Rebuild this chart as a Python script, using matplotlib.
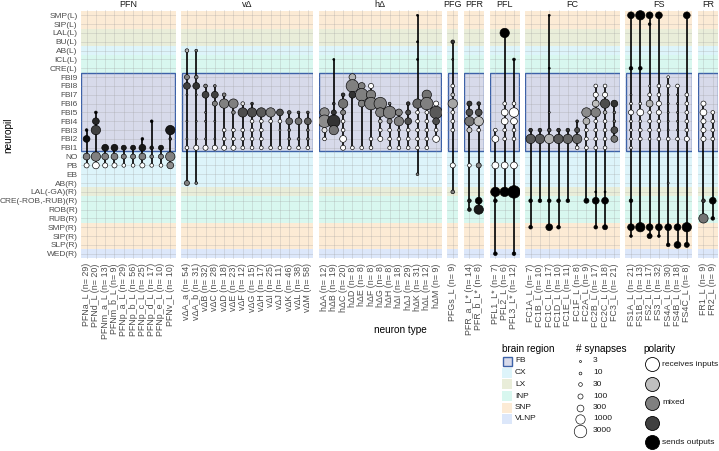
import matplotlib
matplotlib.use('Agg')
import matplotlib.pyplot as plt
from matplotlib.patches import Rectangle

plt.rcParams['font.family'] = ['Liberation Sans', 'DejaVu Sans']

W, H = 719, 451

# ---------------- data ----------------
NP_LABELS = ["SMP(L)", "SIP(L)", "LAL(L)", "BU(L)", "AB(L)", "ICL(L)", "CRE(L)",
             "FBl9", "FBl8", "FBl7", "FBl6", "FBl5", "FBl4", "FBl3", "FBl2", "FBl1",
             "NO", "PB", "EB", "AB(R)", "LAL(-GA)(R)", "CRE(-ROB,-RUB)(R)", "ROB(R)",
             "RUB(R)", "SMP(R)", "SIP(R)", "SLP(R)", "WED(R)"]
NP_KEYS = ["SMP_L", "SIP_L", "LAL_L", "BU_L", "AB_L", "ICL_L", "CRE_L",
           "FB9", "FB8", "FB7", "FB6", "FB5", "FB4", "FB3", "FB2", "FB1",
           "NO", "PB", "EB", "AB_R", "LAL_R", "CRE_R", "ROB_R", "RUB_R",
           "SMP_R", "SIP_R", "SLP_R", "WED_R"]
NP_REGION = ["SNP", "SNP", "LX", "LX", "CX", "INP", "INP",
             "FB", "FB", "FB", "FB", "FB", "FB", "FB", "FB", "FB",
             "CX", "CX", "CX", "CX", "LX", "INP", "INP", "INP",
             "SNP", "SNP", "SNP", "VLNP"]
REGIONS = ["FB", "CX", "LX", "INP", "SNP", "VLNP"]
REGION_COLORS = {"FB": "#D7DAEA", "CX": "#DDF4FA", "LX": "#E9EDD9",
                 "INP": "#D8F7EF", "SNP": "#FCEBD5", "VLNP": "#DCE7FA"}

SIZE_BREAKS = [3, 10, 30, 100, 300, 1000, 3000]
POLARITY_BREAKS = [0.0, 0.25, 0.5, 0.75, 1.0]
POLARITY_LABELS = ["receives inputs", "", "mixed", "", "sends outputs"]

PANEL_NAMES = ["PFN", "v\u0394", "h\u0394", "PFG", "PFR", "PFL", "FC", "FS", "FR"]

PFN_TYPES = ["PFNa_L (n= 29)", "PFNd_L (n= 20)", "PFNm_a_L (n= 13)", "PFNm_b_L (n= 9)",
             "PFNp_a_L (n= 29)", "PFNp_b_L (n= 56)", "PFNp_c_L (n= 25)", "PFNp_d_L (n= 17)",
             "PFNp_e_L (n= 10)", "PFNv_L (n= 10)"]
PFN_POINTS = [
    (0, "FB3", 10, 1), (0, "FB2", 300, 0.95), (0, "NO", 300, 0.5), (0, "PB", 100, 0),
    (1, "FB5", 10, 1), (1, "FB4", 300, 0.85), (1, "FB3", 1000, 0.75), (1, "NO", 1000, 0.5), (1, "PB", 300, 0),
    (2, "FB1", 300, 0.9), (2, "NO", 300, 0.5), (2, "PB", 100, 0),
    (3, "FB1", 300, 0.9), (3, "NO", 300, 0.5), (3, "PB", 100, 0),
    (4, "FB1", 100, 0.9), (4, "NO", 100, 0.5), (4, "PB", 30, 0),
    (5, "FB1", 100, 0.9), (5, "NO", 100, 0.5), (5, "PB", 30, 0),
    (6, "FB2", 10, 1), (6, "FB1", 300, 0.9), (6, "NO", 300, 0.5), (6, "PB", 100, 0),
    (7, "FB4", 10, 1), (7, "FB1", 30, 0.9), (7, "NO", 30, 0.5), (7, "PB", 30, 0),
    (8, "FB1", 100, 0.9), (8, "NO", 100, 0.5), (8, "PB", 30, 0),
    (9, "FB3", 1000, 0.9), (9, "FB2", 10, 0.8), (9, "NO", 1000, 0.5), (9, "PB", 300, 0.45),
]

VD_TYPES = ["v\u0394A_a (n= 54)", "v\u0394A_b (n= 31)", "v\u0394B (n= 32)", "v\u0394C (n= 28)",
            "v\u0394D (n= 18)", "v\u0394E (n= 23)", "v\u0394F (n= 12)", "v\u0394G (n= 15)",
            "v\u0394H (n= 17)", "v\u0394I (n= 25)", "v\u0394J (n= 11)", "v\u0394K (n= 46)",
            "v\u0394L (n= 38)", "v\u0394M (n= 58)"]
VD_POINTS = [
    (0, "AB_L", 30, 0.3), (0, "FB9", 100, 0.5), (0, "FB8", 300, 0.75), (0, "FB7", 3, 0.5),
    (0, "FB4", 3, 0.5), (0, "FB2", 3, 0.3), (0, "FB1", 30, 0), (0, "AB_R", 100, 0.5),
    (1, "AB_L", 10, 0.5), (1, "FB9", 30, 0.5), (1, "FB8", 300, 0.8), (1, "FB7", 3, 0.5),
    (1, "FB4", 3, 0.5), (1, "FB2", 3, 0.5), (1, "FB1", 100, 0), (1, "AB_R", 10, 0.5),
    (2, "FB8", 30, 0.5), (2, "FB7", 300, 0.75), (2, "FB5", 3, 0.5), (2, "FB4", 3, 0.5),
    (2, "FB2", 3, 0.5), (2, "FB1", 100, 0),
    (3, "FB8", 10, 0.5), (3, "FB7", 300, 0.75), (3, "FB6", 100, 0.5), (3, "FB4", 3, 0.5),
    (3, "FB2", 3, 0.5), (3, "FB1", 100, 0),
    (4, "FB7", 30, 0.5), (4, "FB6", 1000, 0.5), (4, "FB3", 30, 0), (4, "FB2", 30, 0), (4, "FB1", 100, 0),
    (5, "FB6", 1000, 0.5), (5, "FB5", 30, 0.5), (5, "FB3", 30, 0), (5, "FB2", 30, 0), (5, "FB1", 100, 0),
    (6, "FB6", 30, 0.1), (6, "FB5", 1000, 0.7), (6, "FB3", 30, 0), (6, "FB2", 30, 0), (6, "FB1", 30, 0),
    (7, "FB6", 10, 0.8), (7, "FB5", 1000, 0.7), (7, "FB4", 30, 0), (7, "FB3", 30, 0),
    (7, "FB2", 30, 0), (7, "FB1", 30, 0),
    (8, "FB5", 1000, 0.65), (8, "FB4", 30, 0), (8, "FB3", 30, 0), (8, "FB2", 30, 0), (8, "FB1", 30, 0),
    (9, "FB5", 1000, 0.5), (9, "FB4", 30, 0), (9, "FB1", 30, 0),
    (10, "FB5", 300, 0.7), (10, "FB4", 30, 0), (10, "FB3", 3, 0), (10, "FB1", 30, 0),
    (11, "FB5", 30, 0.7), (11, "FB4", 300, 0.6), (11, "FB3", 10, 0.5), (11, "FB2", 10, 0.5), (11, "FB1", 30, 0),
    (12, "FB5", 10, 0.7), (12, "FB4", 300, 0.55), (12, "FB2", 10, 0.5), (12, "FB1", 30, 0),
    (13, "FB5", 10, 0.7), (13, "FB4", 300, 0.65), (13, "FB3", 10, 0.5), (13, "FB2", 10, 0.5), (13, "FB1", 30, 0),
]

HD_TYPES = ["h\u0394A (n= 12)", "h\u0394B (n= 19)", "h\u0394C (n= 20)", "h\u0394D (n= 8)",
            "h\u0394E (n= 8)", "h\u0394F (n= 8)", "h\u0394G (n= 8)", "h\u0394H (n= 8)",
            "h\u0394I (n= 18)", "h\u0394J (n= 29)", "h\u0394K (n= 31)", "h\u0394L (n= 12)",
            "h\u0394M (n= 9)"]
HD_POINTS = [
    (0, "FB5", 1000, 0.45), (0, "FB4", 3000, 0.45), (0, "FB3", 100, 0.1), (0, "FB2", 30, 0),
    (1, "ICL_L", 3, 1), (1, "FB6", 10, 0.8), (1, "FB5", 100, 0.8), (1, "FB4", 3000, 0.8), (1, "FB3", 1000, 0.55),
    (2, "FB7", 30, 0.8), (2, "FB6", 1000, 0.55), (2, "FB5", 100, 0.5), (2, "FB4", 30, 0),
    (2, "FB3", 30, 0), (2, "FB2", 300, 0), (2, "FB1", 100, 0),
    (3, "FB9", 300, 0.3), (3, "FB8", 3000, 0.5), (3, "FB7", 300, 0.8), (3, "FB1", 30, 0),
    (4, "FB8", 300, 0.5), (4, "FB7", 3000, 0.5), (4, "FB6", 300, 0.5), (4, "FB1", 30, 0),
    (5, "FB8", 100, 0), (5, "FB7", 1000, 0.5), (5, "FB6", 3000, 0.5), (5, "FB2", 30, 0), (5, "FB1", 30, 0),
    (6, "FB6", 3000, 0.5), (6, "FB5", 1000, 0.5), (6, "FB4", 30, 0.2), (6, "FB3", 30, 0), (6, "FB2", 100, 0),
    (7, "FB6", 10, 0.5), (7, "FB5", 3000, 0.5), (7, "FB4", 100, 0.5), (7, "FB3", 30, 0),
    (7, "FB2", 30, 0), (7, "FB1", 30, 0),
    (8, "FB5", 300, 0.5), (8, "FB4", 1000, 0.5), (8, "FB3", 10, 0.3), (8, "FB2", 30, 0), (8, "FB1", 30, 0),
    (9, "FB6", 30, 0.8), (9, "FB5", 100, 0.7), (9, "FB4", 300, 0.7), (9, "FB3", 30, 0),
    (9, "FB2", 30, 0), (9, "FB1", 30, 0),
    (10, "SMP_L", 3, 1), (10, "BU_L", 3, 1), (10, "ICL_L", 3, 1), (10, "FB6", 1000, 0.6),
    (10, "FB5", 30, 0), (10, "FB4", 30, 0), (10, "FB3", 30, 0), (10, "FB2", 30, 0),
    (10, "FB1", 30, 0), (10, "EB", 10, 0.5),
    (11, "FB7", 1000, 0.55), (11, "FB6", 3000, 0.5), (11, "FB5", 30, 0), (11, "FB4", 30, 0),
    (11, "FB3", 30, 0), (11, "FB2", 30, 0), (11, "FB1", 30, 0),
    (12, "FB6", 100, 0), (12, "FB5", 3000, 0.65), (12, "FB4", 300, 0.7), (12, "FB3", 30, 0), (12, "FB2", 300, 0),
]

PFG_TYPES = ["PFGs_L (n= 9)"]
PFG_POINTS = [
    (0, "BU_L", 30, 0.8), (0, "ICL_L", 3, 0.8), (0, "FB8", 30, 0), (0, "FB7", 30, 0.2),
    (0, "FB6", 1000, 0.35), (0, "FB5", 30, 0), (0, "FB4", 30, 0), (0, "FB3", 30, 0),
    (0, "PB", 100, 0), (0, "LAL_R", 30, 0.5),
]

PFR_TYPES = ["PFR_a_L* (n= 14)", "PFR_b_L* (n= 8)"]
PFR_POINTS = [
    (0, "FB6", 100, 0.8), (0, "FB5", 300, 0.7), (0, "FB4", 1000, 0.55), (0, "FB3", 100, 0.2),
    (0, "PB", 30, 0), (0, "CRE_R", 30, 0.9), (0, "ROB_R", 30, 0.9),
    (1, "FB6", 30, 0.8), (1, "FB5", 300, 0.7), (1, "FB4", 1000, 0.25), (1, "FB3", 30, 0),
    (1, "PB", 100, 0.5), (1, "CRE_R", 300, 1), (1, "ROB_R", 1000, 0.9),
]

PFL_TYPES = ["PFL1_L* (n= 7)", "PFL2_L (n= 6)", "PFL3_L* (n= 12)"]
PFL_POINTS = [
    (0, "FB3", 30, 0), (0, "FB2", 300, 0), (0, "PB", 300, 0), (0, "LAL_R", 1000, 1),
    (0, "CRE_R", 30, 1), (0, "WED_R", 30, 1),
    (1, "LAL_L", 1000, 1), (1, "FB6", 30, 0), (1, "FB5", 300, 0), (1, "FB4", 300, 0),
    (1, "FB3", 30, 0), (1, "FB2", 30, 0), (1, "PB", 300, 0), (1, "LAL_R", 1000, 1),
    (2, "ICL_L", 10, 1), (2, "FB6", 30, 0), (2, "FB5", 1000, 0), (2, "FB4", 300, 0),
    (2, "FB3", 30, 0), (2, "FB2", 30, 0), (2, "PB", 300, 0), (2, "LAL_R", 3000, 1), (2, "WED_R", 30, 1),
]

FC_TYPES = ["FC1A_L (n= 7)", "FC1B_L (n= 10)", "FC1C_L (n= 17)", "FC1D_L (n= 10)",
            "FC1E_L (n= 11)", "FC1F_L (n= 8)", "FC2A_L (n= 9)", "FC2B_L (n= 17)",
            "FC2C_L (n= 18)", "FC3_L (n= 21)"]
FC_POINTS = [
    (0, "FB3", 30, 0.8), (0, "FB2", 1000, 0.65), (0, "CRE_R", 30, 1), (0, "SMP_R", 30, 1),
    (1, "FB3", 30, 0.8), (1, "FB2", 1000, 0.65), (1, "CRE_R", 30, 1),
    (2, "SMP_L", 3, 1), (2, "CRE_L", 3, 1), (2, "FB5", 3, 0.5), (2, "FB3", 30, 0.7),
    (2, "FB2", 1000, 0.3), (2, "CRE_R", 30, 1), (2, "SMP_R", 300, 1),
    (3, "FB3", 30, 0.8), (3, "FB2", 1000, 0.65), (3, "CRE_R", 30, 1), (3, "SMP_R", 30, 1),
    (4, "FB3", 30, 0.8), (4, "FB2", 1000, 0.6), (4, "CRE_R", 30, 1),
    (5, "FB4", 10, 0.8), (5, "FB3", 100, 0.7), (5, "FB2", 1000, 0.6), (5, "FB1", 30, 0),
    (6, "FB5", 1000, 0.45), (6, "FB4", 300, 0.3), (6, "FB3", 30, 0), (6, "FB2", 30, 0),
    (6, "FB1", 30, 0), (6, "CRE_R", 100, 1),
    (7, "FB8", 30, 0), (7, "FB7", 100, 0), (7, "FB6", 300, 0.25), (7, "FB5", 1000, 0.5),
    (7, "FB4", 30, 0), (7, "FB3", 30, 0), (7, "FB2", 30, 0), (7, "FB1", 30, 0),
    (7, "LAL_R", 3, 1), (7, "CRE_R", 300, 1), (7, "SMP_R", 30, 1),
    (8, "FB8", 30, 0), (8, "FB7", 100, 0), (8, "FB6", 1000, 0.7), (8, "FB5", 30, 0.3),
    (8, "FB4", 30, 0), (8, "FB3", 30, 0), (8, "FB2", 30, 0), (8, "FB1", 30, 0),
    (8, "LAL_R", 3, 1), (8, "CRE_R", 300, 1), (8, "SMP_R", 100, 1),
    (9, "FB6", 300, 0.8), (9, "FB5", 10, 0.5), (9, "FB4", 10, 0.5), (9, "FB3", 300, 0.7), (9, "FB2", 300, 0.55),
]

FS_TYPES = ["FS1A_L (n= 21)", "FS1B_L (n= 13)", "FS2_L (n= 17)", "FS3_L (n= 32)",
            "FS4A_L (n= 30)", "FS4B_L (n= 18)", "FS4C_L (n= 8)"]
FS_POINTS = [
    (0, "SMP_L", 300, 1), (0, "CRE_L", 30, 1), (0, "FB7", 3, 0.5), (0, "FB6", 10, 0),
    (0, "FB5", 100, 0), (0, "FB4", 10, 0), (0, "FB3", 10, 0), (0, "FB2", 10, 0), (0, "FB1", 10, 0),
    (0, "CRE_R", 30, 1), (0, "SMP_R", 300, 1), (0, "SIP_R", 10, 1),
    (1, "SMP_L", 1000, 1), (1, "CRE_L", 30, 1), (1, "FB6", 10, 0), (1, "FB5", 300, 0),
    (1, "FB4", 10, 0), (1, "FB3", 30, 0), (1, "FB2", 30, 0), (1, "SMP_R", 1000, 1),
    (2, "SMP_L", 300, 1), (2, "SIP_L", 10, 1), (2, "FB8", 3, 0), (2, "FB7", 30, 0),
    (2, "FB6", 300, 0.3), (2, "FB5", 30, 0), (2, "FB4", 30, 0), (2, "FB3", 30, 0),
    (2, "FB2", 10, 0), (2, "SMP_R", 300, 1), (2, "SIP_R", 100, 1),
    (3, "SMP_L", 300, 1), (3, "FB8", 30, 0), (3, "FB7", 30, 0), (3, "FB6", 100, 0),
    (3, "FB5", 100, 0), (3, "FB4", 30, 0), (3, "FB3", 30, 0), (3, "FB2", 30, 0),
    (3, "SMP_R", 300, 1), (3, "SIP_R", 10, 1),
    (4, "FB9", 10, 0), (4, "FB8", 30, 0), (4, "FB7", 3, 0.5), (4, "FB6", 3, 0.5),
    (4, "FB5", 3, 0.5), (4, "FB4", 3, 0.5), (4, "FB3", 3, 0.5), (4, "FB2", 30, 0),
    (4, "AB_R", 3, 0.5), (4, "SMP_R", 300, 1), (4, "SLP_R", 30, 1),
    (5, "FB8", 30, 0), (5, "FB7", 3, 0.5), (5, "FB6", 3, 0.5), (5, "FB5", 3, 0.5),
    (5, "FB4", 3, 0.5), (5, "FB3", 3, 0.5), (5, "FB2", 30, 0), (5, "SMP_R", 300, 1), (5, "SLP_R", 300, 1),
    (6, "SMP_L", 300, 1), (6, "FB7", 30, 0), (6, "FB6", 30, 0), (6, "FB5", 30, 0),
    (6, "FB4", 30, 0), (6, "FB3", 30, 0), (6, "FB2", 100, 0), (6, "SMP_R", 1000, 1), (6, "SLP_R", 100, 1),
]

FR_TYPES = ["FR1_L (n= 9)", "FR2_L (n= 9)"]
FR_POINTS = [
    (0, "FB6", 100, 0), (0, "FB5", 300, 0), (0, "FB4", 100, 0), (0, "FB3", 100, 0),
    (0, "FB2", 100, 0), (0, "CRE_R", 30, 0.8), (0, "RUB_R", 1000, 0.55),
    (1, "FB5", 30, 0), (1, "FB4", 30, 0), (1, "FB3", 30, 0), (1, "FB2", 30, 0),
    (1, "CRE_R", 300, 1), (1, "RUB_R", 30, 1),
]

PANEL_TYPES = [PFN_TYPES, VD_TYPES, HD_TYPES, PFG_TYPES, PFR_TYPES, PFL_TYPES, FC_TYPES, FS_TYPES, FR_TYPES]
PANEL_POINTS = [PFN_POINTS, VD_POINTS, HD_POINTS, PFG_POINTS, PFR_POINTS, PFL_POINTS, FC_POINTS, FS_POINTS, FR_POINTS]

# ---------------- styling helpers ----------------
def diam_px(n):
    return 1.5 * n ** 0.265

def msize(n):
    return (diam_px(n) * 0.72) ** 2

def gray(v):
    g = 1.0 - v
    return (g, g, g)

TXT = "#4d4d4d"
FS_XTICK = 6.4
FS_YTICK = 6.0
FS_STRIP = 6.5
FS_LEG = 6.0
FS_TITLE = 7.2
FB_EDGE = "#3D62A8"

fig = plt.figure(figsize=(W / 100, H / 100), dpi=100)

left_px, unit, gap = 81.0, 9.3, 5.5
top_px, bot_px = 10.0, 259.0
nrow = len(NP_KEYS)
row_idx = {k: i for i, k in enumerate(NP_KEYS)}

x0 = left_px
for p, (pname, types, pts) in enumerate(zip(PANEL_NAMES, PANEL_TYPES, PANEL_POINTS)):
    n = len(types)
    wpx = (n + 0.2) * unit
    ax = fig.add_axes([x0 / W, 1 - bot_px / H, wpx / W, (bot_px - top_px) / H])
    ax.set_xlim(-0.6, n - 1 + 0.6)
    ax.set_ylim(nrow - 1 + 0.6, -0.6)
    for s in ax.spines.values():
        s.set_visible(False)
    ax.set_facecolor("white")
    # background bands
    for r, reg in enumerate(NP_REGION):
        if reg != "FB":
            ax.axhspan(r - 0.5, r + 0.5, color=REGION_COLORS[reg], lw=0, zorder=0)
    fb_rows = [r for r, reg in enumerate(NP_REGION) if reg == "FB"]
    ax.add_patch(Rectangle((-0.56, min(fb_rows) - 0.45), n - 1 + 1.12,
                           max(fb_rows) - min(fb_rows) + 0.87,
                           facecolor=REGION_COLORS["FB"], edgecolor=FB_EDGE, lw=1.0, zorder=0.6))
    # grid
    for r in range(nrow):
        ax.axhline(r, color="#9a9a9a", lw=0.45, alpha=0.4, zorder=0.8)
    for c in range(n):
        ax.axvline(c, color="#9a9a9a", lw=0.45, alpha=0.4, zorder=0.8)
    # lines
    for t in range(n):
        rows = [row_idx[k] for (ti, k, cnt, pol) in pts if ti == t]
        if rows:
            ax.vlines(t, min(rows), max(rows), color="black", lw=1.4, alpha=0.85, zorder=2)
    # points
    xs = [ti for (ti, k, cnt, pol) in pts]
    ys = [row_idx[k] for (ti, k, cnt, pol) in pts]
    ss = [msize(cnt) for (ti, k, cnt, pol) in pts]
    cs = [gray(pol) for (ti, k, cnt, pol) in pts]
    ax.scatter(xs, ys, s=ss, c=cs, edgecolors="black", linewidths=0.45, zorder=3)
    # ticks
    ax.set_xticks(range(n))
    ax.set_xticklabels(types, rotation=90, fontsize=FS_XTICK, color=TXT)
    ax.tick_params(axis="x", length=0, pad=3)
    if p == 0:
        ax.set_yticks(range(nrow))
        ax.set_yticklabels(NP_LABELS, fontsize=FS_YTICK, color=TXT)
        ax.tick_params(axis="y", length=0, pad=2.5)
    else:
        ax.set_yticks([])
    fig.text((x0 + wpx / 2) / W, 1 - 4.5 / H, pname, ha="center", va="center",
             fontsize=FS_STRIP, color="#1a1a1a")
    x0 += wpx + gap

fig.text(8 / W, 1 - 135 / H, "neuropil", rotation=90, ha="center", va="center", fontsize=FS_TITLE)
fig.text(400 / W, 1 - 330 / H, "neuron type", ha="center", va="center", fontsize=FS_TITLE)

# ---------------- legends ----------------
lax = fig.add_axes([0, 0, 1, 1])
lax.set_xlim(0, W)
lax.set_ylim(H, 0)
lax.axis("off")

lax.text(502, 349, "brain region", ha="left", va="center", fontsize=FS_TITLE)
reg_y = [361, 372.5, 384, 396, 407.5, 419]
for reg, y in zip(REGIONS, reg_y):
    if reg == "FB":
        lax.add_patch(Rectangle((502.5, y - 4.5), 9, 9, facecolor=REGION_COLORS[reg],
                                edgecolor=FB_EDGE, lw=1.0))
    else:
        lax.add_patch(Rectangle((502, y - 5), 10, 10, facecolor=REGION_COLORS[reg], lw=0))
    lax.text(515, y, reg, ha="left", va="center", fontsize=FS_LEG, color="#1a1a1a")

lax.text(576, 349, "# synapses", ha="left", va="center", fontsize=FS_TITLE)
syn_y = [361, 372.5, 384, 396, 407.5, 419, 430.7]
for nb, y in zip(SIZE_BREAKS, syn_y):
    lax.scatter([580], [y], s=msize(nb), c="white", edgecolors="black", linewidths=0.45)
    lax.text(593, y, str(nb), ha="left", va="center", fontsize=FS_LEG, color="#1a1a1a")

lax.text(643, 349, "polarity", ha="left", va="center", fontsize=FS_TITLE)
pol_y = [364, 383.5, 403, 422.5, 442]
for v, lab, y in zip(POLARITY_BREAKS, POLARITY_LABELS, pol_y):
    lax.scatter([652], [y], s=(14 * 0.72) ** 2, c=[gray(v)], edgecolors="black", linewidths=0.6)
    if lab:
        lax.text(662, y, lab, ha="left", va="center", fontsize=FS_LEG, color="#1a1a1a")

fig.savefig("out.png", dpi=100)
